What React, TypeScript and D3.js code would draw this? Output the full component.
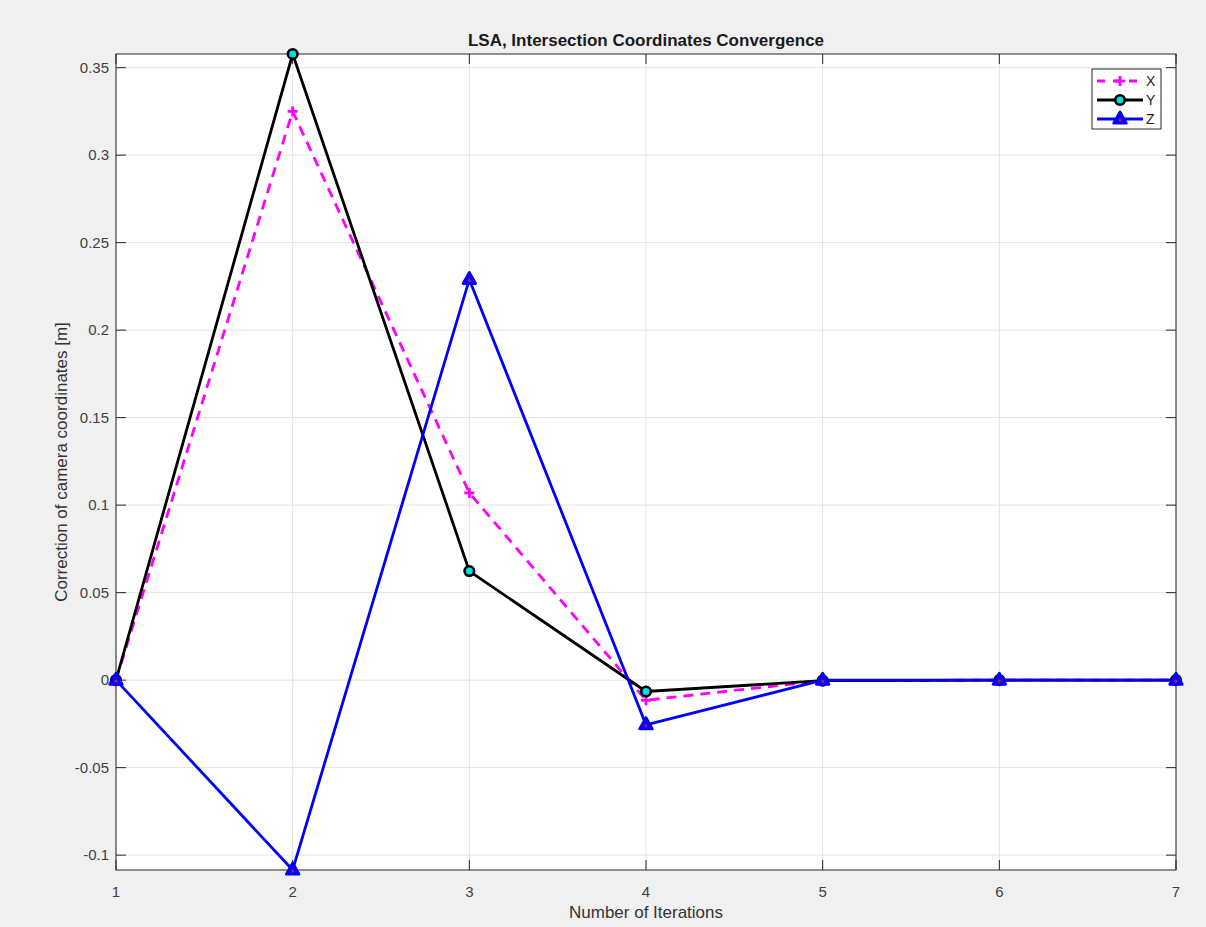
import React from "react";
import * as d3 from "d3";

const iterations = [1, 2, 3, 4, 5, 6, 7];
const seriesX = [0, 0.325, 0.107, -0.0115, -0.0003, 0, 0];
const seriesY = [0, 0.3578, 0.0623, -0.0065, -0.0003, 0, 0];
const seriesZ = [0, -0.1085, 0.229, -0.0255, 0, 0, 0];
const yTicks = [-0.1, -0.05, 0, 0.05, 0.1, 0.15, 0.2, 0.25, 0.3, 0.35];
const yTickLabels = ["-0.1", "-0.05", "0", "0.05", "0.1", "0.15", "0.2", "0.25", "0.3", "0.35"];
const xTicks = [1, 2, 3, 4, 5, 6, 7];
const legendNames = ["X", "Y", "Z"];

const W = 1206, H = 927;
const L = 116, R = 1176, T = 54, B = 870;
const FONT = "'Liberation Sans', Arial, Helvetica, sans-serif";

export default function App() {
  const x = d3.scaleLinear().domain([1, 7]).range([L, R]);
  const y = d3.scaleLinear().domain([-0.1085, 0.3578]).range([B, T]);
  const line = d3.line<number>().x((_, i) => x(iterations[i])).y((d) => y(d));

  const tri = (cx: number, cy: number, s = 7) =>
    `M${cx},${cy - s} L${cx + s * 0.9},${cy + s * 0.6} L${cx - s * 0.9},${cy + s * 0.6} Z`;

  const plus = (cx: number, cy: number, s = 5, key?: any) => (
    <g key={key} stroke="#ff00ff" strokeWidth={2.8}>
      <line x1={cx - s} x2={cx + s} y1={cy} y2={cy} />
      <line x1={cx} x2={cx} y1={cy - s} y2={cy + s} />
    </g>
  );
  const circ = (cx: number, cy: number, key?: any) => (
    <circle key={key} cx={cx} cy={cy} r={4.8} fill="#00e0e0" stroke="#000" strokeWidth={2.6} />
  );
  const triM = (cx: number, cy: number, key?: any) => (
    <g key={key}>
      <path d={tri(cx, cy)} fill="#0000ff" stroke="#0000ff" strokeWidth={2.8} strokeLinejoin="round" />
      <circle cx={cx} cy={cy + 1} r={1.6} fill="#e0004a" />
    </g>
  );

  const lx = 1097, lx2 = 1143, lmid = 1120;
  const ly = [81, 100, 119];

  return (
    <svg width={W} height={H} style={{ position: "absolute", left: 0, top: 0 }} fontFamily={FONT}>
      <rect x={0} y={0} width={W} height={H} fill="#f0f0f0" />
      <rect x={L} y={T} width={R - L} height={B - T} fill="#fff" />
      {/* grid */}
      {yTicks.map((t) => (
        <line key={"gy" + t} x1={L} x2={R} y1={y(t)} y2={y(t)} stroke="#e3e3e3" strokeWidth={1} />
      ))}
      {xTicks.map((t) => (
        <line key={"gx" + t} x1={x(t)} x2={x(t)} y1={T} y2={B} stroke="#e3e3e3" strokeWidth={1} />
      ))}
      {/* axes box */}
      <rect x={L} y={T} width={R - L} height={B - T} fill="none" stroke="#262626" strokeWidth={1} />
      {yTicks.map((t, i) => (
        <g key={"ty" + t}>
          <line x1={L} x2={L + 10} y1={y(t)} y2={y(t)} stroke="#262626" />
          <line x1={R} x2={R - 10} y1={y(t)} y2={y(t)} stroke="#262626" />
          <text x={L - 7} y={y(t) + 5} textAnchor="end" fontSize={15} fill="#404040">{yTickLabels[i]}</text>
        </g>
      ))}
      {xTicks.map((t) => (
        <g key={"tx" + t}>
          <line x1={x(t)} x2={x(t)} y1={B} y2={B - 10} stroke="#262626" />
          <line x1={x(t)} x2={x(t)} y1={T} y2={T + 10} stroke="#262626" />
          <text x={x(t)} y={B + 27} textAnchor="middle" fontSize={15} fill="#404040">{t}</text>
        </g>
      ))}
      <text x={(L + R) / 2} y={46} textAnchor="middle" fontSize={17} fontWeight="bold" fill="#1a1a1a">
        LSA, Intersection Coordinates Convergence
      </text>
      <text x={(L + R) / 2} y={918} textAnchor="middle" fontSize={17} fill="#333">Number of Iterations</text>
      <text transform={`translate(67,${(T + B) / 2}) rotate(-90)`} textAnchor="middle" fontSize={17} fill="#333">
        Correction of camera coordinates [m]
      </text>
      {/* series */}
      <path d={line(seriesX) || ""} fill="none" stroke="#ff00ff" strokeWidth={2.8} strokeDasharray="10,7" />
      <path d={line(seriesY) || ""} fill="none" stroke="#000" strokeWidth={2.8} />
      <path d={line(seriesZ) || ""} fill="none" stroke="#0000ff" strokeWidth={2.8} />
      {seriesX.map((v, i) => plus(x(iterations[i]), y(v), 5, "px" + i))}
      {seriesY.map((v, i) => circ(x(iterations[i]), y(v), "cy" + i))}
      {seriesZ.map((v, i) => triM(x(iterations[i]), y(v), "tz" + i))}
      {/* legend */}
      <rect x={1092} y={69} width={69} height={60} fill="#fff" stroke="#262626" strokeWidth={1} />
      <line x1={lx} x2={lx2} y1={ly[0]} y2={ly[0]} stroke="#ff00ff" strokeWidth={2.8} strokeDasharray="8,8" />
      {plus(lmid, ly[0], 5)}
      <line x1={lx} x2={lx2} y1={ly[1]} y2={ly[1]} stroke="#000" strokeWidth={2.8} />
      {circ(lmid, ly[1])}
      <line x1={lx} x2={lx2} y1={ly[2]} y2={ly[2]} stroke="#0000ff" strokeWidth={2.8} />
      {triM(lmid, ly[2])}
      {legendNames.map((n, i) => (
        <text key={n} x={1146} y={ly[i] + 5} fontSize={14} fill="#222">{n}</text>
      ))}
    </svg>
  );
}
